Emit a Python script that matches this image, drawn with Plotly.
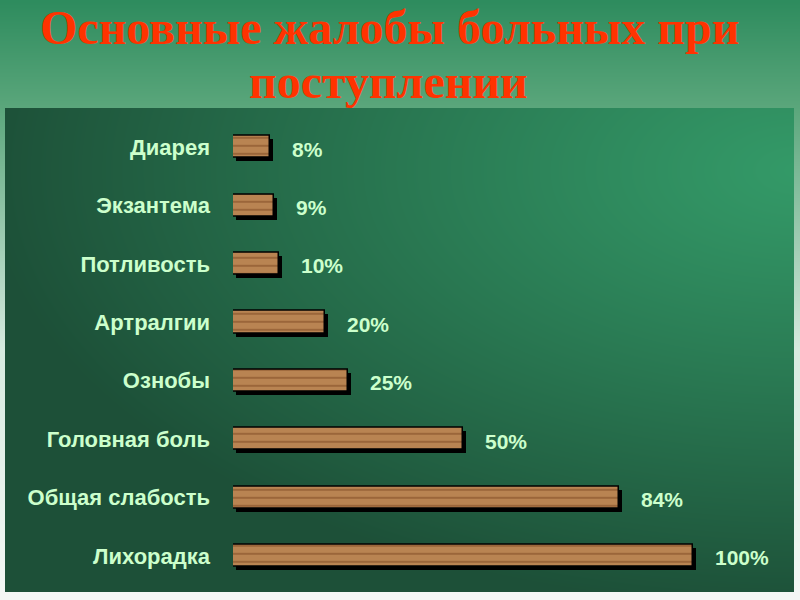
import base64, struct, zlib
import numpy as np
import plotly.graph_objects as go

# ---- data ----
categories = ["Диарея", "Экзантема", "Потливость", "Артралгии", "Ознобы",
              "Головная боль", "Общая слабость", "Лихорадка"]
values = [8, 9, 10, 20, 25, 50, 84, 100]
value_labels = ["8%", "9%", "10%", "20%", "25%", "50%", "84%", "100%"]
title_line1 = "Основные жалобы больных при"
title_line2 = "поступлении"

W, H = 800, 600

# ---- background picture (slide gradient + dark panel) ----
yy, xx = np.mgrid[0:H, 0:W].astype(float)
stops_y = [0, 105, 350, 600]
stops_c = [np.array([46, 140, 94]), np.array([90, 166, 123]),
           np.array([215, 235, 224]), np.array([245, 248, 246])]
img = np.zeros((H, W, 3))
for ch in range(3):
    img[:, :, ch] = np.interp(yy, stops_y, [c[ch] for c in stops_c])

px0, px1, py0, py1 = 5, 794, 108, 592
bright = np.array([52, 154, 104])
dark = np.array([29, 80, 56])
t = np.sqrt(((xx - 800) / 820) ** 2 + ((yy - 170) / 440) ** 2)
t = np.clip(t, 0, 1) ** 1.1
panel = bright[None, None, :] * (1 - t[..., None]) + dark[None, None, :] * t[..., None]
mask = (xx >= px0) & (xx < px1) & (yy >= py0) & (yy < py1)
img[mask] = panel[mask]
img = np.clip(img, 0, 255).astype(np.uint8)

def to_png(arr):
    h, w, _ = arr.shape
    raw = b"".join(b"\x00" + arr[r].tobytes() for r in range(h))
    def chunk(tag, data):
        c = struct.pack(">I", len(data)) + tag + data
        return c + struct.pack(">I", zlib.crc32(tag + data) & 0xffffffff)
    return (b"\x89PNG\r\n\x1a\n" + chunk(b"IHDR", struct.pack(">IIBBBBB", w, h, 8, 2, 0, 0, 0))
            + chunk(b"IDAT", zlib.compress(raw, 9)) + chunk(b"IEND", b""))

bg_uri = "data:image/png;base64," + base64.b64encode(to_png(img)).decode()

# ---- geometry ----
x0_px, x100_px = 233, 693
row_top, row_bot = 117.8, 585.2
sh = 3  # shadow offset px

xdom = [x0_px / W, x100_px / W]
ydom = [1 - row_bot / H, 1 - row_top / H]
xdom_s = [(x0_px + sh) / W, (x100_px + sh) / W]
ydom_s = [1 - (row_bot + sh) / H, 1 - (row_top + sh) / H]

label_color = "#ccffcc"
fig = go.Figure()

# shadow bars
fig.add_trace(go.Bar(
    x=values, y=categories, orientation="h", xaxis="x", yaxis="y",
    marker=dict(color="black", line=dict(width=0)), width=0.38,
    hoverinfo="skip", showlegend=False,
))
# wood bars
fig.add_trace(go.Bar(
    x=values, y=categories, orientation="h", xaxis="x2", yaxis="y2",
    marker=dict(color="#b47c46", line=dict(color="black", width=1.5),
                pattern=dict(shape="-", fgcolor="#74401a", bgcolor="#b98452",
                             size=8, solidity=0.22)),
    width=0.38, showlegend=False,
))

annotations = []
for c, v, lab in zip(categories, values, value_labels):
    annotations.append(dict(
        x=v, y=c, xref="x2", yref="y2", text=f"<b>{lab}</b>", showarrow=False,
        xanchor="left", yanchor="middle", xshift=20, yshift=-2,
        font=dict(family="Liberation Sans, Arial", size=21, color=label_color)))

annotations.append(dict(x=389 / W, y=1 - 28 / H, xref="paper", yref="paper",
                        text=f"<b>{title_line1}</b>", showarrow=False,
                        xanchor="center", yanchor="middle",
                        font=dict(family="Liberation Serif, Times New Roman", size=48, color="#ff3300")))
annotations.append(dict(x=388 / W, y=1 - 81 / H, xref="paper", yref="paper",
                        text=f"<b>{title_line2}</b>", showarrow=False,
                        xanchor="center", yanchor="middle",
                        font=dict(family="Liberation Serif, Times New Roman", size=48, color="#ff3300")))

axis_common = dict(showgrid=False, zeroline=False, showline=False, ticks="")
fig.update_layout(
    width=W, height=H, margin=dict(l=0, r=0, t=0, b=0),
    paper_bgcolor="rgba(0,0,0,0)", plot_bgcolor="rgba(0,0,0,0)",
    bargap=0,
    xaxis=dict(domain=xdom_s, range=[0, 100], showticklabels=False, **axis_common),
    yaxis=dict(domain=ydom_s, categoryorder="array", categoryarray=categories,
               autorange="reversed", showticklabels=False, **axis_common),
    xaxis2=dict(domain=xdom, range=[0, 100], showticklabels=False, anchor="y2", **axis_common),
    yaxis2=dict(domain=ydom, categoryorder="array", categoryarray=categories,
                autorange="reversed", anchor="x2", ticklabelstandoff=22,
                tickfont=dict(family="Liberation Sans, Arial", size=22, color=label_color),
                **axis_common),
    annotations=annotations,
    images=[dict(source=bg_uri, xref="paper", yref="paper", x=0, y=1,
                 sizex=1, sizey=1, xanchor="left", yanchor="top",
                 sizing="stretch", layer="below")],
)
fig.update_yaxes(selector=dict(anchor="x2"),
                 tickvals=categories, ticktext=[f"<b>{c}</b>" for c in categories])

fig.write_html("out.html", config={"displayModeBar": False},
               post_script="document.body.style.margin='0';")
